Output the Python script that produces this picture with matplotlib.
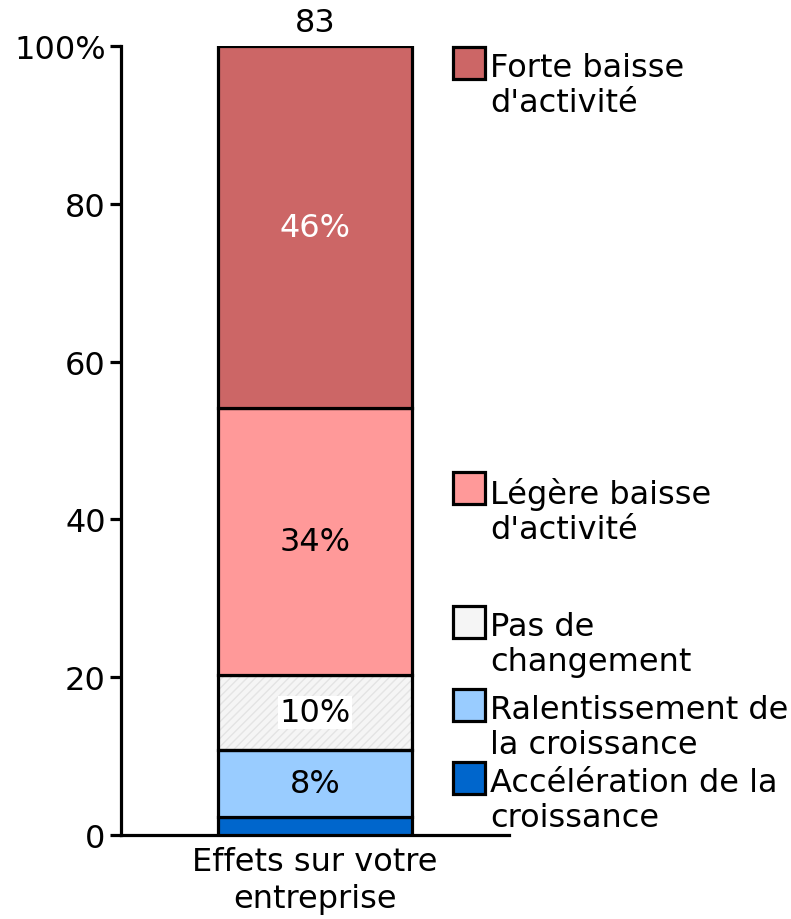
import matplotlib
matplotlib.use("Agg")
import matplotlib.pyplot as plt
from matplotlib.patches import Rectangle

# ── data ──────────────────────────────────────────────────────────────────────
categories = ["Effets sur votre\nentreprise"]
series_names = [
    "Accélération de la\ncroissance",
    "Ralentissement de\nla croissance",
    "Pas de\nchangement",
    "Légère baisse\nd'activité",
    "Forte baisse\nd'activité",
]
values = [2.3, 8.5, 9.5, 33.8, 45.9]
value_labels = ["", "8%", "10%", "34%", "46%"]
total_n = "83"
yticks = [0, 20, 40, 60, 80, 100]
ytick_labels = ["0", "20", "40", "60", "80", "100%"]

# ── style ─────────────────────────────────────────────────────────────────────
colors = ["#0066CC", "#99CCFF", "#F5F5F5", "#FF9999", "#CC6666"]
text_colors = ["black", "black", "black", "black", "white"]
legend_top_px = [763, 690, 607, 473, 48]   # legend square tops (pixels from top)
FS = 23
LW = 2.3

W, H = 791, 920
fig = plt.figure(figsize=(W / 100, H / 100), dpi=100)
ax = fig.add_axes([121 / W, 1 - 836 / H, (509 - 121) / W, (836 - 47) / H])

bottom = 0
for i, v in enumerate(values):
    if i == 2:
        # faint hatched fill, then black outline on top
        ax.bar(0, v, width=1.0, bottom=bottom, color=colors[i],
               edgecolor="#e4e4e4", hatch="////", linewidth=0, zorder=2)
        ax.bar(0, v, width=1.0, bottom=bottom, fill=False,
               edgecolor="black", linewidth=LW, zorder=3)
    else:
        ax.bar(0, v, width=1.0, bottom=bottom, color=colors[i],
               edgecolor="black", linewidth=LW, zorder=3)
    if value_labels[i]:
        kw = {}
        if i == 2:
            kw["bbox"] = dict(facecolor="white", edgecolor="none", pad=1)
        ax.text(0, bottom + v / 2, value_labels[i], ha="center", va="center",
                fontsize=FS, color=text_colors[i], zorder=4, **kw)
    bottom += v

ax.annotate(total_n, (0, bottom), xytext=(0, 6), textcoords="offset points",
            ha="center", va="bottom", fontsize=FS)

ax.set_xlim(-1, 1)
ax.set_ylim(0, 100)
ax.set_yticks(yticks)
ax.set_yticklabels(ytick_labels, fontsize=FS)
ax.set_xticks([0])
ax.set_xticklabels(categories, fontsize=FS, linespacing=1.25)
ax.tick_params(axis="y", length=8, width=LW, pad=3)
ax.tick_params(axis="x", length=0, pad=8)
for s in ["top", "right"]:
    ax.spines[s].set_visible(False)
for s in ["left", "bottom"]:
    ax.spines[s].set_linewidth(LW)

# ── legend drawn by hand, beside the bar ──────────────────────────────────────
sq = 32
for name, col, top in zip(series_names, colors, legend_top_px):
    y0 = 1 - (top + sq) / H
    fig.patches.append(Rectangle((453 / W, y0), sq / W, sq / H,
                                 transform=fig.transFigure, facecolor=col,
                                 edgecolor="black", linewidth=LW))
    fig.text(490 / W, 1 - (top + 5) / H, name, ha="left", va="top",
             fontsize=FS, linespacing=1.17)

fig.savefig("out.png", dpi=100)
